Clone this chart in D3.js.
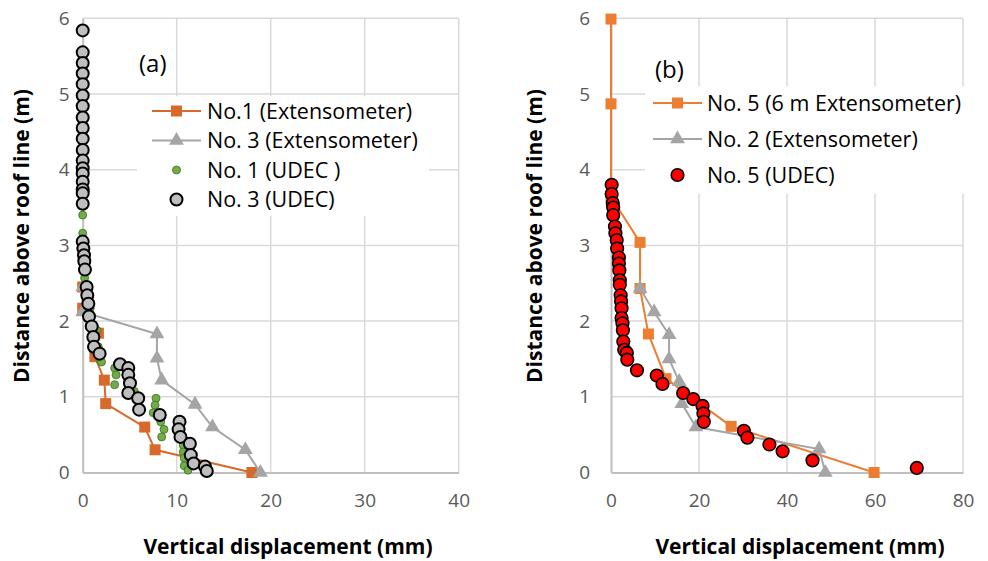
<!DOCTYPE html>
<html>
<head>
<meta charset="utf-8">
<script src="https://d3js.org/d3.v7.min.js"></script>
<style>
  body { margin: 0; background: #fff; }
  text { font-family: "Open Sans", sans-serif; }
  .tick text { fill: #595959; font-size: 19px; }
  .axis-title { font-weight: bold; font-size: 21px; fill: #000; }
  .legend text { font-size: 21.5px; fill: #000; }
  .panel-label { font-size: 24px; fill: #000; }
</style>
</head>
<body>
<div id="chart"></div>
<script>
// ---- data, panel (a) ----
var aTicksX = [0, 10, 20, 30, 40];
var aTicksY = [0, 1, 2, 3, 4, 5, 6];

var aExt1Disp  = [18.0, 7.7, 6.6, 2.45, 2.3, 1.3, 1.67, 0, 0];
var aExt1Depth = [0, 0.30, 0.60, 0.91, 1.22, 1.53, 1.84, 2.17, 2.45];

var aExt3Disp  = [18.9, 17.3, 13.8, 11.95, 8.4, 7.9, 7.9, 0, 0];
var aExt3Depth = [0, 0.30, 0.60, 0.90, 1.22, 1.51, 1.83, 2.12, 2.45];

var aUdec1Disp  = [0, 0, 0, 0, 0.1, 0.2, 0.5, 0.8, 1.5, 1.66, 1.84, 2.0, 3.4, 3.55, 3.4, 5.5,
                   7.8, 7.7, 7.5, 8.3, 8.65, 8.4, 10.7, 10.7, 10.8, 10.8, 11.2];
var aUdec1Depth = [3.95, 3.65, 3.40, 3.16, 2.85, 2.57, 2.40, 2.17, 1.88, 1.66, 1.49, 1.46, 1.38, 1.29, 1.16, 1.07,
                   0.98, 0.89, 0.79, 0.67, 0.57, 0.47, 0.36, 0.27, 0.19, 0.09, 0.03];

var aUdec3Disp  = [0, 0, 0, 0, 0, 0, 0, 0, 0, 0, 0, 0, 0, 0, 0, 0, 0, 0,
                   0, 0.07, 0.14, 0.17, 0.24, 0.42, 0.49, 0.6, 0.67, 0.96, 1.13, 1.2, 1.8,
                   3.97, 4.85, 4.85, 5.03, 4.85, 5.9, 6.0, 8.2, 10.3, 10.2, 10.4, 11.4, 11.5, 11.8, 13.0, 13.2];
var aUdec3Depth = [5.84, 5.55, 5.41, 5.27, 5.13, 4.98, 4.84, 4.69, 4.55, 4.41, 4.26, 4.12, 4.02, 3.95, 3.84, 3.74, 3.69, 3.55,
                   3.05, 2.96, 2.87, 2.79, 2.68, 2.45, 2.34, 2.23, 2.06, 1.93, 1.79, 1.66, 1.57,
                   1.43, 1.38, 1.29, 1.18, 1.05, 0.98, 0.83, 0.76, 0.67, 0.57, 0.47, 0.38, 0.23, 0.12, 0.08, 0.02];

// ---- data, panel (b) ----
var bTicksX = [0, 20, 40, 60, 80];
var bTicksY = [0, 1, 2, 3, 4, 5, 6];

var bExt5Disp  = [59.8, 27.3, 12.5, 8.5, 6.6, 6.6, 0, 0, 0];
var bExt5Depth = [0, 0.61, 1.24, 1.83, 2.43, 3.04, 3.64, 4.87, 5.99];

var bExt2Disp  = [48.7, 47.3, 19.3, 16.1, 15.5, 13.2, 13.2, 9.8, 6.6];
var bExt2Depth = [0, 0.31, 0.60, 0.91, 1.20, 1.50, 1.82, 2.12, 2.43];

var bUdec5Disp  = [0.15, 0.15, 0.4, 0.5, 0.5, 0.9, 1.0, 1.3, 1.4, 1.8, 1.8, 1.9, 2.0, 2.0, 2.2, 2.3, 2.4, 2.4,
                   2.6, 2.7, 2.8, 3.0, 3.6, 3.7, 5.9, 10.4, 11.7, 16.4, 18.7, 20.8, 21.0, 21.1,
                   30.2, 31.0, 36.0, 39.0, 45.8, 69.5];
var bUdec5Depth = [3.80, 3.68, 3.56, 3.50, 3.40, 3.25, 3.16, 3.07, 2.96, 2.84, 2.76, 2.67, 2.54, 2.48, 2.34, 2.26, 2.17, 2.04,
                   1.97, 1.88, 1.73, 1.62, 1.58, 1.49, 1.35, 1.28, 1.17, 1.05, 0.97, 0.88, 0.78, 0.67,
                   0.55, 0.46, 0.37, 0.28, 0.16, 0.06];

var xTitle = 'Vertical displacement (mm)';
var yTitle = 'Distance above roof line (m)';

function pairs(xs, ys) {
  return xs.map(function(v, i) { return [v, ys[i]]; });
}

var width = 988, height = 561;
var svg = d3.select('#chart').append('svg')
  .attr('width', width)
  .attr('height', height);

var panels = [
  {
    label: '(a)', labelX: 139, labelY: 72,
    left: 82.7, right: 458.7, top: 18.3, bottom: 472.5,
    xMax: 40, xTicks: aTicksX, yTicks: aTicksY, yPad: 13,
    xTitleX: 288, yTitleX: 22,
    legend: { x: 137, y: 96, w: 292, h: 120, lineX0: 152, lineX1: 201, textX: 207, rowY0: 111, rowStep: 29.5 },
    series: [
      { name: 'No.1 (Extensometer)', kind: 'line', marker: 'square', color: '#D7692A', data: pairs(aExt1Disp, aExt1Depth) },
      { name: 'No. 3 (Extensometer)', kind: 'line', marker: 'triangle', color: '#A5A5A5', data: pairs(aExt3Disp, aExt3Depth) },
      { name: 'No. 1 (UDEC )', kind: 'dot', r: 4, fill: '#70AD47', stroke: '#3F6F24', sw: 0.8, data: pairs(aUdec1Disp, aUdec1Depth) },
      { name: 'No. 3 (UDEC)', kind: 'dot', r: 6, fill: '#BFBFBF', stroke: '#000', sw: 2, data: pairs(aUdec3Disp, aUdec3Depth) }
    ]
  },
  {
    label: '(b)', labelX: 655, labelY: 78,
    left: 611, right: 963, top: 18.3, bottom: 472.5,
    xMax: 80, xTicks: bTicksX, yTicks: bTicksY, yPad: 21,
    xTitleX: 800, yTitleX: 535,
    legend: { x: 645, y: 86, w: 335, h: 108, lineX0: 653, lineX1: 702, textX: 707, rowY0: 103, rowStep: 36 },
    series: [
      { name: 'No. 5 (6 m Extensometer)', kind: 'line', marker: 'square', color: '#ED7D31', data: pairs(bExt5Disp, bExt5Depth) },
      { name: 'No. 2 (Extensometer)', kind: 'line', marker: 'triangle', color: '#A5A5A5', data: pairs(bExt2Disp, bExt2Depth) },
      { name: 'No. 5 (UDEC)', kind: 'dot', r: 6.3, fill: '#FF0000', stroke: '#000', sw: 1.6, data: pairs(bUdec5Disp, bUdec5Depth) }
    ]
  }
];

var square = d3.symbol().type(d3.symbolSquare).size(121);
var triangle = d3.symbol().type(d3.symbolTriangle).size(95);

panels.forEach(function(p) {
  var x = d3.scaleLinear().domain([0, p.xMax]).range([p.left, p.right]);
  var y = d3.scaleLinear().domain([0, 6]).range([p.bottom, p.top]);
  var g = svg.append('g');

  // gridlines
  g.append('g').selectAll('line')
    .data(p.xTicks.slice(1))
    .enter().append('line')
    .attr('x1', function(d) { return x(d); }).attr('x2', function(d) { return x(d); })
    .attr('y1', p.top).attr('y2', p.bottom)
    .attr('stroke', '#D9D9D9').attr('stroke-width', 1.5);
  g.append('g').selectAll('line')
    .data(p.yTicks.slice(1))
    .enter().append('line')
    .attr('x1', p.left).attr('x2', p.right)
    .attr('y1', function(d) { return y(d); }).attr('y2', function(d) { return y(d); })
    .attr('stroke', '#D9D9D9').attr('stroke-width', 1.5);

  // axes
  var xa = g.append('g')
    .attr('transform', 'translate(0,' + p.bottom + ')')
    .call(d3.axisBottom(x).tickValues(p.xTicks).tickFormat(d3.format('d')).tickSize(0).tickPadding(21));
  var ya = g.append('g')
    .attr('transform', 'translate(' + p.left + ',0)')
    .call(d3.axisLeft(y).tickValues(p.yTicks).tickFormat(d3.format('d')).tickSize(0).tickPadding(p.yPad));
  [xa, ya].forEach(function(a) {
    a.select('.domain').attr('stroke', '#BFBFBF').attr('stroke-width', 2);
    a.attr('font-family', null).attr('font-size', null);
  });

  // titles
  g.append('text').attr('class', 'axis-title')
    .attr('x', p.xTitleX).attr('y', 554)
    .attr('text-anchor', 'middle')
    .text(xTitle);
  g.append('text').attr('class', 'axis-title')
    .attr('transform', 'translate(' + p.yTitleX + ',236) rotate(-90)')
    .attr('dy', '0.35em')
    .attr('text-anchor', 'middle')
    .text(yTitle);

  // series
  p.series.forEach(function(s) {
    if (s.kind === 'line') {
      g.append('path')
        .datum(s.data)
        .attr('fill', 'none')
        .attr('stroke', s.color)
        .attr('stroke-width', 2)
        .attr('d', d3.line().x(function(d) { return x(d[0]); }).y(function(d) { return y(d[1]); }));
      g.append('g').selectAll('path')
        .data(s.data)
        .enter().append('path')
        .attr('d', s.marker === 'square' ? square : triangle)
        .attr('fill', s.color)
        .attr('transform', function(d) { return 'translate(' + x(d[0]) + ',' + y(d[1]) + ')'; });
    } else {
      g.append('g').selectAll('circle')
        .data(s.data)
        .enter().append('circle')
        .attr('cx', function(d) { return x(d[0]); })
        .attr('cy', function(d) { return y(d[1]); })
        .attr('r', s.r)
        .attr('fill', s.fill)
        .attr('stroke', s.stroke)
        .attr('stroke-width', s.sw);
    }
  });

  // panel label
  g.append('text').attr('class', 'panel-label')
    .attr('x', p.labelX).attr('y', p.labelY)
    .text(p.label);

  // legend
  var L = p.legend;
  var lg = g.append('g').attr('class', 'legend');
  lg.append('rect')
    .attr('x', L.x).attr('y', L.y).attr('width', L.w).attr('height', L.h)
    .attr('fill', '#fff');
  var rows = lg.selectAll('g.row')
    .data(p.series)
    .enter().append('g')
    .attr('class', 'row')
    .attr('transform', function(d, i) { return 'translate(0,' + (L.rowY0 + i * L.rowStep) + ')'; });
  rows.each(function(s) {
    var r = d3.select(this);
    var mx = (L.lineX0 + L.lineX1) / 2;
    if (s.kind === 'line') {
      r.append('line')
        .attr('x1', L.lineX0).attr('x2', L.lineX1)
        .attr('stroke', s.color).attr('stroke-width', 2);
      r.append('path')
        .attr('d', s.marker === 'square' ? square : triangle)
        .attr('fill', s.color)
        .attr('transform', 'translate(' + mx + ',0)');
    } else {
      r.append('circle')
        .attr('cx', mx).attr('r', s.r)
        .attr('fill', s.fill).attr('stroke', s.stroke).attr('stroke-width', s.sw);
    }
    r.append('text')
      .attr('x', L.textX).attr('dy', '0.35em')
      .text(s.name);
  });
});
</script>
</body>
</html>
